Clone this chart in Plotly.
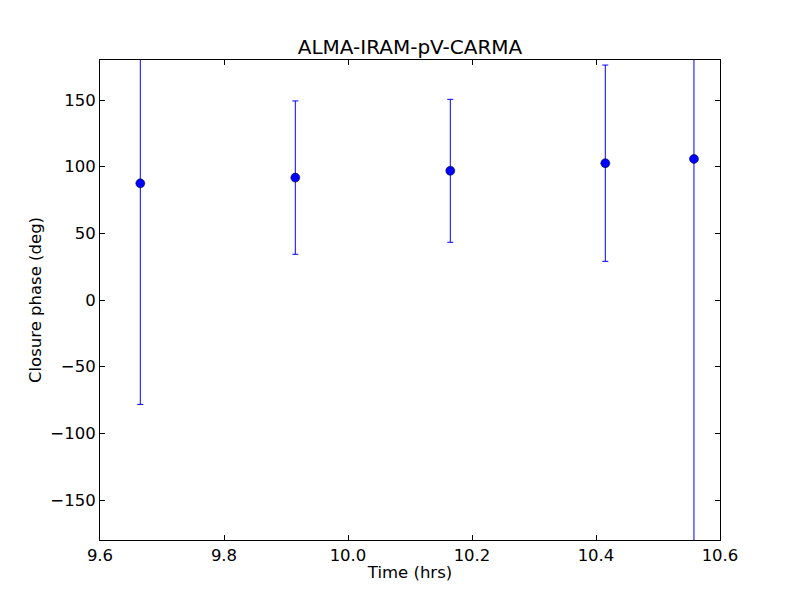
import plotly.graph_objects as go

times = [9.665, 9.915, 10.165, 10.415, 10.558]
phases = [87.5, 91.8, 96.9, 102.6, 105.8]
errors = [165.8, 57.5, 53.6, 73.6, 300.0]

x_ticks = [9.6, 9.8, 10.0, 10.2, 10.4, 10.6]
y_ticks = [-150, -100, -50, 0, 50, 100, 150]

fig = go.Figure()
fig.add_trace(go.Scatter(
    x=times, y=phases, mode="markers",
    marker=dict(size=9, color="#0000ff", line=dict(color="black", width=0.5)),
    error_y=dict(type="data", array=errors, color="#0000ff", thickness=1, width=3),
    cliponaxis=True, showlegend=False,
))

font = dict(family="DejaVu Sans", size=16.5, color="black")
fig.update_layout(
    width=800, height=600,
    margin=dict(l=100, r=80, t=60, b=60),
    paper_bgcolor="white", plot_bgcolor="white",
    font=font,
    title=dict(text="ALMA-IRAM-pV-CARMA", x=0.5, xanchor="center", xref="paper",
               y=1, yref="paper", yanchor="bottom", pad=dict(b=6),
               font=dict(family="DejaVu Sans", size=20, color="black")),
)
fig.update_xaxes(
    range=[9.6, 10.6], tickvals=x_ticks, ticktext=[f"{v:.1f}" for v in x_ticks],
    showgrid=False, zeroline=False, showline=True, linecolor="black", linewidth=1,
    mirror="ticks", ticks="inside", ticklen=5, tickcolor="black",
    title=dict(text="Time (hrs)", font=font, standoff=2),
)
fig.update_yaxes(
    range=[-180, 180], tickvals=y_ticks,
    ticktext=[("\u2212" + str(-v)) if v < 0 else str(v) for v in y_ticks],
    showgrid=False, zeroline=False, showline=True, linecolor="black", linewidth=1,
    mirror="ticks", ticks="inside", ticklen=5, tickcolor="black",
    title=dict(text="Closure phase (deg)", font=font, standoff=4),
)
fig.write_html("out.html", config={"displayModeBar": False},
               post_script="document.body.style.margin='0';")
